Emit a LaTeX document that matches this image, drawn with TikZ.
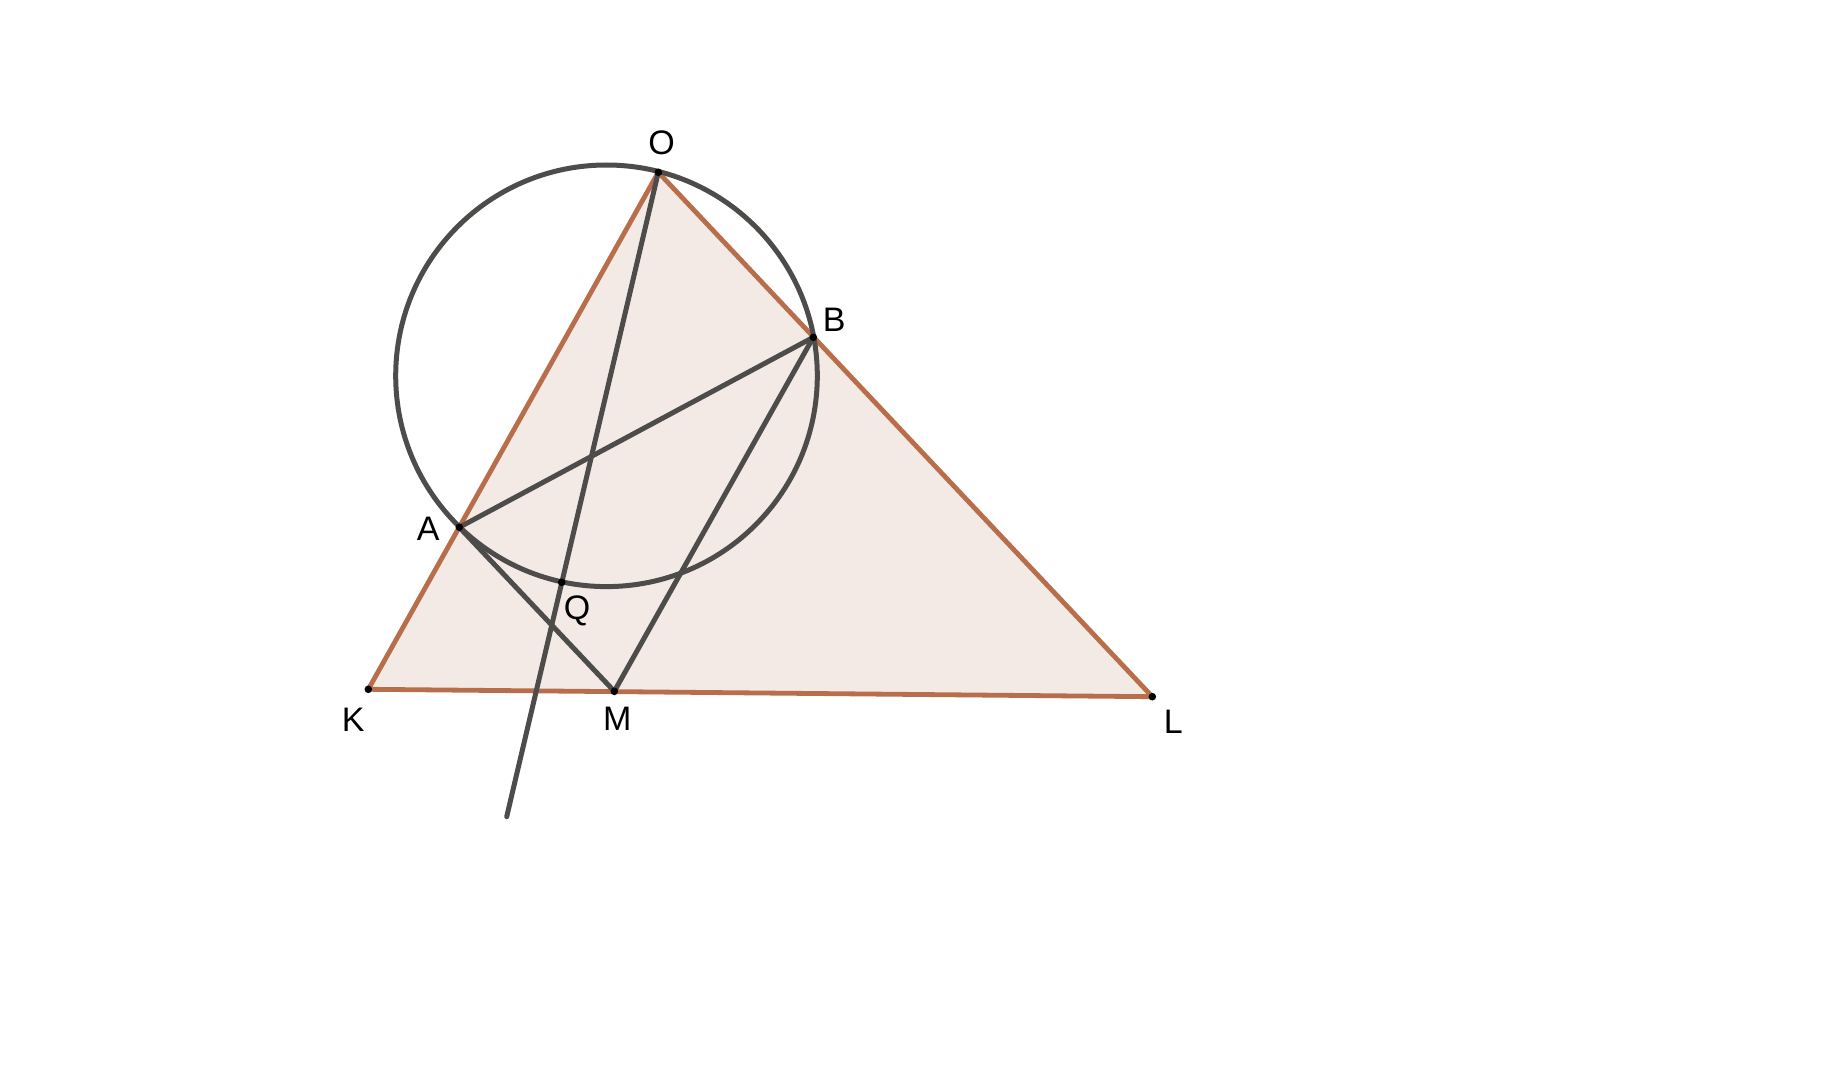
\documentclass[tikz,border=0pt]{standalone}
\usepackage{fontspec}
\setmainfont{Liberation Sans}
\begin{document}
\begin{tikzpicture}[x=0.5pt,y=-0.5pt,
  brownline/.style={draw=edgebrown,line width=2.4pt,line join=round},
  darkline/.style={draw=darkgrey,line width=2.5pt,line cap=round},
  pt/.style={circle,fill=black,inner sep=0pt,minimum size=3.8pt},
  lbl/.style={font=\fontsize{17}{17}\selectfont,inner sep=0pt}]
\definecolor{edgebrown}{RGB}{184,110,74}
\definecolor{fillbrown}{RGB}{243,234,230}
\definecolor{darkgrey}{RGB}{78,76,74}
\useasboundingbox (0,0) rectangle (1825,1091);
% points
\coordinate (O) at (658.3,172.3);
\coordinate (B) at (813.3,337.3);
\coordinate (A) at (459.3,527.3);
\coordinate (Q) at (561.7,582.3);
\coordinate (M) at (614.3,691.3);
\coordinate (K) at (368.3,689.3);
\coordinate (L) at (1152.3,696.7);
\coordinate (E) at (506.7,816.7);
\coordinate (C) at (606.5,375.8);
% triangle
\fill[fillbrown] (K) -- (O) -- (L) -- cycle;
\draw[brownline] (K) -- (O) -- (L) -- cycle;
% circle and lines
\draw[darkline] (C) circle[radius=210.8];
\draw[darkline] (O) -- (E);
\draw[darkline] (A) -- (B);
\draw[darkline] (A) -- (M) -- (B);
% dots
\foreach \p in {O,B,A,Q,M,K,L} \node[pt] at (\p) {};
% labels
\node[lbl] (lO) at (661.7,142.3) {O};
\node[lbl] (lB) at (834.3,320) {B};
\node[lbl] (lA) at (428.3,529.3) {A};
\node[lbl] (lQ) at (577,611) {Q};
\node[lbl] (lM) at (617.3,718.3) {M};
\node[lbl] (lK) at (353.3,719.3) {K};
\node[lbl] (lL) at (1173.3,721.7) {L};
\end{tikzpicture}
\end{document}
